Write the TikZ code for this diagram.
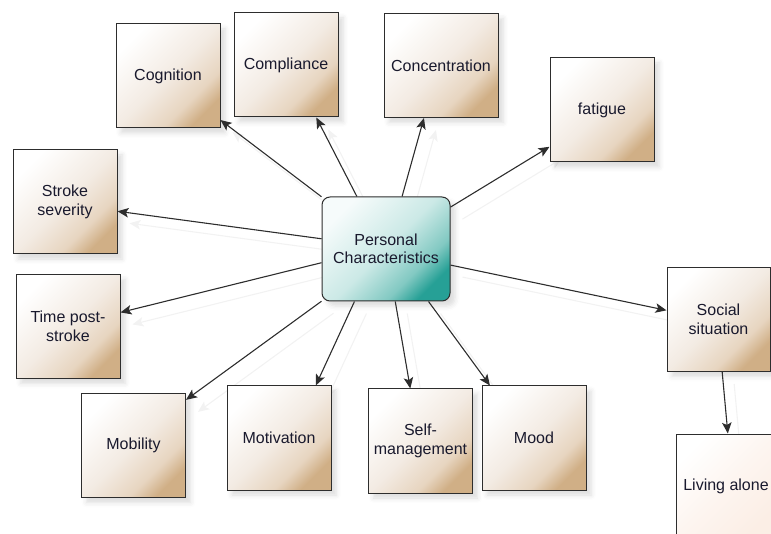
\documentclass[tikz,border=0pt]{standalone}
\usepackage{fontspec}
\setmainfont{Liberation Sans}
\usetikzlibrary{arrows.meta,shadows.blur,backgrounds}
\definecolor{tanD}{RGB}{208,175,134}
\definecolor{tanQ}{RGB}{231,213,192}
\definecolor{tanM}{RGB}{243,235,227}
\definecolor{tealD}{RGB}{38,160,150}
\definecolor{tealQ}{RGB}{130,201,194}
\definecolor{tealM}{RGB}{203,233,230}
\definecolor{tealL}{RGB}{246,251,251}
\definecolor{livD}{RGB}{251,238,229}
\definecolor{livM}{RGB}{253,245,240}
\definecolor{edgeC}{RGB}{45,45,45}
\definecolor{txtC}{RGB}{25,25,45}
\pgfdeclareverticalshading{tanshade}{100bp}{color(0bp)=(tanD); color(25bp)=(tanD); color(34bp)=(tanQ); color(50bp)=(tanM); color(75bp)=(white); color(100bp)=(white)}
\pgfdeclareverticalshading{tealshade}{100bp}{color(0bp)=(tealD); color(25bp)=(tealD); color(34bp)=(tealQ); color(50bp)=(tealM); color(75bp)=(tealL); color(100bp)=(tealL)}
\pgfdeclareverticalshading{livshade}{100bp}{color(0bp)=(livD); color(25bp)=(livD); color(50bp)=(livM); color(75bp)=(white); color(100bp)=(white)}
\begin{document}
\begin{tikzpicture}[x=1pt,y=-1pt,
  boxshadow/.style={blur shadow={shadow xshift=5pt, shadow yshift=-5pt, shadow opacity=14, shadow blur radius=5pt}},
  box/.style={draw=edgeC, line width=1pt, shade, shading=tanshade, shading angle=45,
    minimum width=104pt, minimum height=104pt, inner sep=1pt, align=center, text=txtC,
    font=\fontsize{16}{18.5}\selectfont, boxshadow},
  livbox/.style={box, shading=livshade, shading angle=45, minimum width=100pt},
  centre/.style={draw=edgeC, line width=1pt, rounded corners=8pt, shade, shading=tealshade, shading angle=45,
    minimum width=128pt, minimum height=104pt, inner sep=1pt, align=center, text=txtC,
    font=\fontsize{16}{18.5}\selectfont, boxshadow},
  conn/.style={draw=edgeC, line width=1.1pt, -{Stealth[length=11pt,width=9.5pt,inset=2.5pt]}},
  shconn/.style={draw=black!5, line width=1.1pt, -{Stealth[length=11pt,width=9.5pt,inset=2.5pt]},
    transform canvas={shift={(12pt,-12pt)}}}
]
\useasboundingbox (0,0) rectangle (771,534);
\node[box] (cog) at (168,76) {Cognition};
\node[box] (comp) at (286,65) {Compliance};
\node[box, minimum width=114pt] (conc) at (441,65.5) {Concentration};
\node[box] (fat) at (602,110) {fatigue};
\node[box] (sev) at (65,202) {Stroke\\severity};
\node[box] (time) at (68,326.5) {Time post-\\stroke};
\node[box] (mob) at (133.5,445.5) {Mobility};
\node[box] (motiv) at (279,438) {Motivation};
\node[box] (self) at (420.5,441) {Self-\\management};
\node[box] (mood) at (534,438) {Mood};
\node[box, minimum width=103pt] (soc) at (718.5,319.5) {Social\\situation};
\node[livbox] (liv) at (726,486) {Living alone};
\node[centre] (c) at (386,249) {Personal\\Characteristics};
\begin{scope}[on background layer]
\foreach \a/\b in {c.141/cog.-40, c.119/comp.-60, c.73/conc.-108, c.33/fat.215, c.171/sev.-10, c.192/time.15, c.219/mob.41, c.239/motiv.55, c.-80/self.101, c.-51/mood.130, c.-14/soc.170, soc.-86/liv.88}
  \draw[shconn] (\a) -- (\b);
\end{scope}
\foreach \a/\b in {c.141/cog.-40, c.119/comp.-60, c.73/conc.-108, c.33/fat.215, c.171/sev.-10, c.192/time.15, c.219/mob.41, c.239/motiv.55, c.-80/self.101, c.-51/mood.130, c.-14/soc.170, soc.-86/liv.88}
  \draw[conn] (\a) -- (\b);
\end{tikzpicture}
\end{document}
